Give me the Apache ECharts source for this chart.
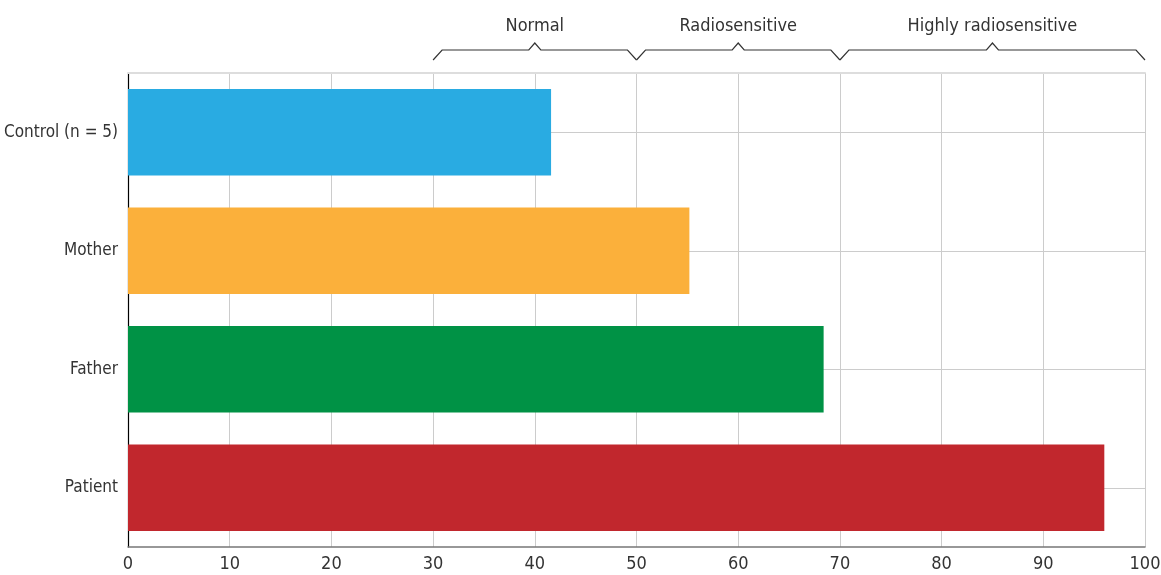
<!DOCTYPE html>
<html><head><meta charset="utf-8">
<script src="https://cdn.jsdelivr.net/npm/echarts@6/dist/echarts.min.js"></script>
<style>html,body{margin:0;padding:0;background:#fff}#c{width:1161px;height:575px}</style>
</head><body><div id="c"></div>
<script>
var categories = ['Control (n = 5)', 'Mother', 'Father', 'Patient'];
var values = [41.6, 55.2, 68.4, 96.0];
var colors = ['#29ABE2', '#FBB03B', '#009245', '#C1272D'];
var xTicks = [0, 10, 20, 30, 40, 50, 60, 70, 80, 90, 100];
var bracketStarts = [30, 50, 70];
var bracketEnds = [50, 70, 100];
var bracketLabels = ['Normal', 'Radiosensitive', 'Highly radiosensitive'];

var FONT = '"DejaVu Sans Condensed", "Liberation Sans Narrow", sans-serif';
var chart = echarts.init(document.getElementById('c'));
var bracketData = bracketStarts.map(function (s, i) { return [s, bracketEnds[i], bracketLabels[i]]; });

chart.setOption({
  animation: false,
  grid: { left: 128, right: 16, top: 73, bottom: 28, containLabel: false, outerBoundsMode: 'none' },
  xAxis: [{
    type: 'value', min: 0, max: 100, interval: 10,
    axisLine: { show: true, lineStyle: { color: '#777', width: 1.5 } },
    axisTick: { show: false },
    axisLabel: { color: '#333', fontFamily: FONT, fontSize: 18, margin: 8 },
    splitLine: { show: true, lineStyle: { color: '#cccccc', width: 1 } }
  }, {
    type: 'value', min: 0, max: 100, position: 'top',
    axisLine: { show: true, lineStyle: { color: '#dddddd', width: 2 } },
    axisTick: { show: false }, axisLabel: { show: false }, splitLine: { show: false }
  }],
  yAxis: {
    type: 'category', data: categories, inverse: true,
    axisLine: { show: true, lineStyle: { color: '#000', width: 1.2 } },
    axisTick: { show: false },
    axisLabel: { color: '#333', fontFamily: FONT, fontSize: 17, margin: 10 },
    splitLine: { show: false }
  },
  series: [{
    type: 'line', data: [], z: 1, silent: true, symbol: 'none',
    markLine: {
      z: 1, symbol: 'none', silent: true, label: { show: false },
      lineStyle: { color: '#cccccc', width: 1, type: 'solid' },
      data: categories.map(function (c) { return { yAxis: c }; })
    }
  }, {
    type: 'bar', z: 3, barCategoryGap: '27%',
    data: values.map(function (v, i) { return { value: v, itemStyle: { color: colors[i] } }; })
  }, {
    type: 'custom', z: 5, silent: true, clip: false,
    data: bracketData,
    encode: { x: [0, 1] },
    renderItem: function (params, api) {
      var x0 = api.coord([api.value(0), categories[0]])[0];
      var x1 = api.coord([api.value(1), categories[0]])[0];
      var mid = (x0 + x1) / 2;
      var top = params.coordSys.y;
      var yb = top - 23, yt = top - 13, yp = top - 30;
      return {
        type: 'group',
        children: [{
          type: 'polyline',
          shape: { points: [[x0, yt], [x0 + 9, yb], [mid - 6, yb], [mid, yp], [mid + 6, yb], [x1 - 9, yb], [x1, yt]] },
          style: { stroke: '#333', lineWidth: 1.2, fill: null }
        }, {
          type: 'text',
          style: { text: bracketData[params.dataIndex][2], x: mid, y: top - 47, align: 'center', verticalAlign: 'middle',
                   font: '18px ' + FONT, fill: '#333' }
        }]
      };
    }
  }]
});
</script></body></html>
